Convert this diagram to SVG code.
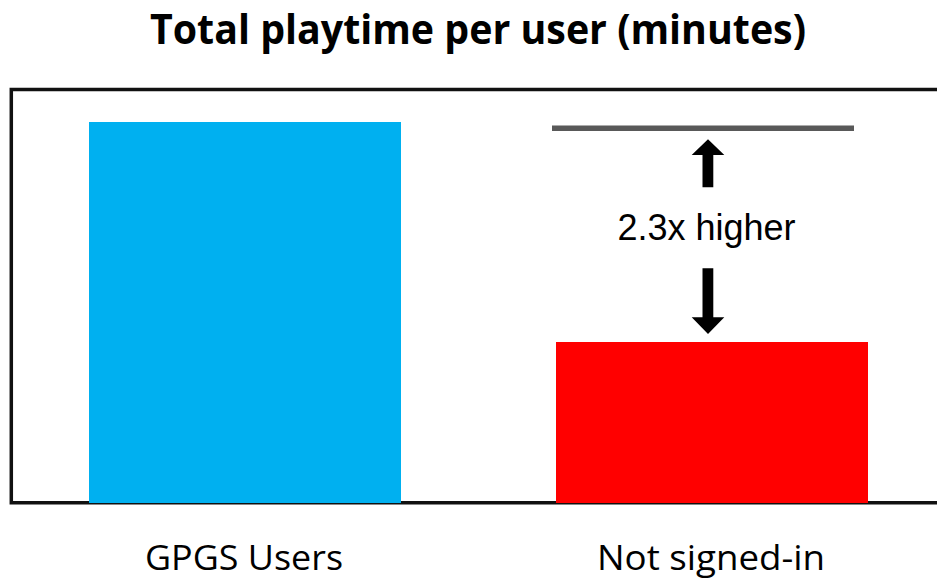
<svg xmlns="http://www.w3.org/2000/svg" width="937" height="579" viewBox="0 0 937 579">
  <style>
    .title { font-family: "Open Sans", "Liberation Sans", sans-serif; font-weight: bold; font-size: 42px; fill: #000; }
    .label { font-family: "Open Sans", "Liberation Sans", sans-serif; font-size: 34.5px; fill: #000; }
    .note { font-family: "Liberation Sans", Arial, sans-serif; font-size: 36px; fill: #000; }
    .frame { fill: none; stroke: #111; stroke-width: 3.5; }
    .arrow { fill: #000; }
  </style>
  <rect x="0" y="0" width="937" height="579" fill="#fff"/>
  <g id="title">
    <text class="title" x="150" y="43.5" textLength="656" lengthAdjust="spacingAndGlyphs">Total playtime per user (minutes)</text>
  </g>
  <g id="frame">
    <path class="frame" d="M 940 89.5 L 11.3 89.5 L 11.3 502.8 L 940 502.8"/>
  </g>
  <g id="bar-gpgs">
    <rect x="89" y="122" width="312" height="381" fill="#00B0F0"/>
    <text class="label" x="145" y="570" textLength="198" lengthAdjust="spacingAndGlyphs">GPGS Users</text>
  </g>
  <g id="bar-not-signed-in">
    <rect x="556" y="342" width="312" height="161" fill="#FF0000"/>
    <text class="label" x="597" y="570" textLength="228" lengthAdjust="spacingAndGlyphs">Not signed-in</text>
  </g>
  <g id="reference-line">
    <line x1="552" y1="128.3" x2="854" y2="128.3" stroke="#595959" stroke-width="5.5"/>
  </g>
  <g id="connectors">
    <polygon class="arrow" points="708,139.3 724.3,155 713.3,155 713.3,187.3 702.5,187.3 702.5,155 691.7,155"/>
    <polygon class="arrow" points="702.5,268.3 713.3,268.3 713.3,317.3 724.3,317.3 708,334 691.7,317.3 702.5,317.3"/>
  </g>
  <g id="ratio-label">
    <text class="note" x="706.5" y="240" text-anchor="middle">2.3x higher</text>
  </g>
</svg>
